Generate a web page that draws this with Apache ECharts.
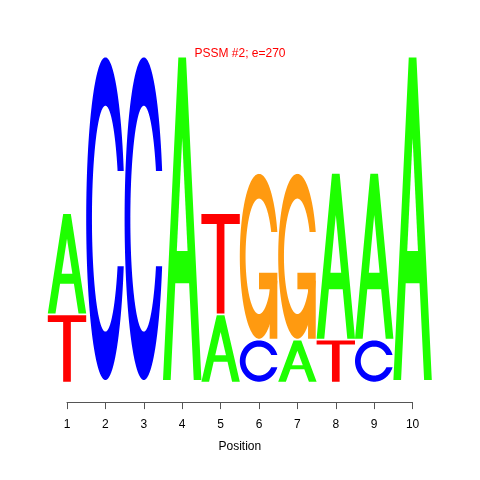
<!DOCTYPE html>
<html><head><meta charset="utf-8">
<script src="https://cdn.jsdelivr.net/npm/echarts@6/dist/echarts.min.js"></script>
<style>html,body{margin:0;padding:0;background:#fff}#c{width:480px;height:480px}</style>
</head><body><div id="c"></div>
<script>
// ---- data (letter heights on the y scale) ----
const positions = [1, 2, 3, 4, 5, 6, 7, 8, 9, 10];
const letters = ['A', 'C', 'G', 'T'];
const heightA = [0.587, 0, 0, 1.9, 0.391, 0, 0.243, 0.971, 0.971, 1.9];
const heightC = [0, 1.9, 1.9, 0, 0, 0.243, 0, 0, 0.243, 0];
const heightG = [0, 0, 0, 0, 0, 0.971, 0.971, 0, 0, 0];
const heightT = [0.391, 0, 0, 0, 0.587, 0, 0, 0.243, 0, 0];
const tickLabels = ['1', '2', '3', '4', '5', '6', '7', '8', '9', '10'];
const titleText = 'PSSM #2; e=270';
const axisName = 'Position';

// ---- styles ----
const letterColors = { A: '#1EFF00', C: '#0000FF', G: '#FF9A10', T: '#FF0000' };
const stackGap = 0.01;

// ---- build stacked letter boxes (smallest at bottom) ----
const items = [];
positions.forEach((p, j) => {
  const hts = [heightA[j], heightC[j], heightG[j], heightT[j]];
  const order = [0, 1, 2, 3].sort((a, b) => (hts[a] - hts[b]) || (a - b));
  let y = 0;
  order.forEach(i => {
    if (hts[i] > 0) items.push([p, y, y + hts[i], i]);
    y += hts[i] + stackGap;
  });
});

// ---- unit letter glyph outlines (x right, y up, in [0,1]) ----
function seq(a, b, n) { const r = []; for (let i = 0; i < n; i++) r.push(a + (b - a) * i / (n - 1)); return r; }
function cShape() {
  const a1 = seq(0.3 + Math.PI / 2, Math.PI, 100), a2 = seq(Math.PI, 1.5 * Math.PI, 100);
  const xl1 = a1.map(a => 0.5 + 0.5 * Math.sin(a)), yl1 = a1.map(a => 0.5 + 0.5 * Math.cos(a));
  const xl2 = a2.map(a => 0.5 + 0.5 * Math.sin(a)), yl2 = a2.map(a => 0.5 + 0.5 * Math.cos(a));
  const xl = xl1.concat(xl2), yl = yl1.concat(yl2);
  const x = xl.concat(xl.slice().reverse()), y = yl.concat(yl.slice().reverse().map(v => 1 - v));
  const maxY = Math.max.apply(null, yl1);
  let xi1 = a1.map(a => 0.5 + 0.35 * Math.sin(a)), yi1 = a1.map(a => 0.5 + 0.35 * Math.cos(a));
  const keep = yi1.map(v => v <= maxY);
  xi1 = xi1.filter((v, i) => keep[i]); yi1 = yi1.filter((v, i) => keep[i]);
  yi1[0] = maxY;
  const xi2 = a2.map(a => 0.5 + 0.35 * Math.sin(a)), yi2 = a2.map(a => 0.5 + 0.35 * Math.cos(a));
  const xi = xi1.concat(xi2), yi = yi1.concat(yi2);
  const x1 = xi.concat(xi.slice().reverse()), y1 = yi.concat(yi.slice().reverse().map(v => 1 - v));
  const X = x.concat(x1.slice().reverse()), Y = y.concat(y1.slice().reverse());
  return { pts: X.map((v, i) => [v, Y[i]]), r1: Math.max.apply(null, xl1) };
}
const C = cShape();
const r1 = C.r1, h1 = 0.4;
const glyphs = {
  A: [
    { pts: [[0,0],[4,10],[6,10],[10,0],[8,0],[6.8,3],[3.2,3],[2,0],[0,0]].map(p => [p[0]/10, p[1]/10]), white: false },
    { pts: [[3.6,4],[5,7.5],[6.4,4],[3.6,4]].map(p => [p[0]/10, p[1]/10]), white: true }
  ],
  C: [{ pts: C.pts, white: false }],
  G: [
    { pts: C.pts, white: false },
    { pts: [[r1,h1],[0.5,h1],[0.5,h1-0.1],[r1-0.2,h1-0.1],[r1-0.2,0],[r1,0],[r1,h1]], white: false }
  ],
  T: [{ pts: [[0,10],[10,10],[10,9],[6,9],[6,0],[4,0],[4,9],[0,9]].map(p => [p[0]/10, p[1]/10]), white: false }]
};

function renderLetter(params, api) {
  const p = api.value(0), y0 = api.value(1), y1 = api.value(2), li = api.value(3);
  const bl = api.coord([p - 0.5, y0]);
  const tr = api.coord([p + 0.5, y1]);
  const L = letters[li];
  const w = tr[0] - bl[0], h = bl[1] - tr[1];
  return {
    type: 'group',
    children: glyphs[L].map(g => ({
      type: 'polygon',
      shape: { points: g.pts.map(q => [bl[0] + q[0] * w, bl[1] - q[1] * h]) },
      style: { fill: g.white ? '#FFFFFF' : letterColors[L], stroke: null }
    }))
  };
}

const chart = echarts.init(document.getElementById('c'), null, { renderer: 'canvas' });
chart.setOption({
  animation: false,
  backgroundColor: '#FFFFFF',
  title: {
    text: titleText, left: 'center', top: 48, padding: 0,
    textStyle: { color: '#FF0000', fontSize: 12, fontWeight: 'normal', fontFamily: 'Liberation Sans, Arial, sans-serif' }
  },
  grid: { left: 67, right: 67.4, top: 45.5, bottom: 94.9, containLabel: false, outerBoundsMode: 'none' },
  xAxis: {
    type: 'value', min: 1, max: 10, interval: 1, offset: 17,
    name: axisName, nameLocation: 'middle', nameGap: 39,
    nameTextStyle: { color: '#000', fontSize: 12, fontFamily: 'Liberation Sans, Arial, sans-serif' },
    axisLine: { show: true, onZero: false, lineStyle: { color: '#555', width: 1 } },
    axisTick: { show: true, length: 7, inside: false, lineStyle: { color: '#555', width: 1 } },
    axisLabel: {
      show: true, margin: 17, color: '#000', fontSize: 12,
      fontFamily: 'Liberation Sans, Arial, sans-serif',
      showMinLabel: true, showMaxLabel: true,
      formatter: v => tickLabels[Math.round(v) - 1]
    },
    splitLine: { show: false }
  },
  yAxis: { type: 'value', min: 0, max: 2, show: false, splitLine: { show: false } },
  series: [{
    type: 'custom', clip: false,
    renderItem: renderLetter,
    encode: { x: 0, y: [1, 2] },
    data: items
  }]
});
</script>
</body></html>
